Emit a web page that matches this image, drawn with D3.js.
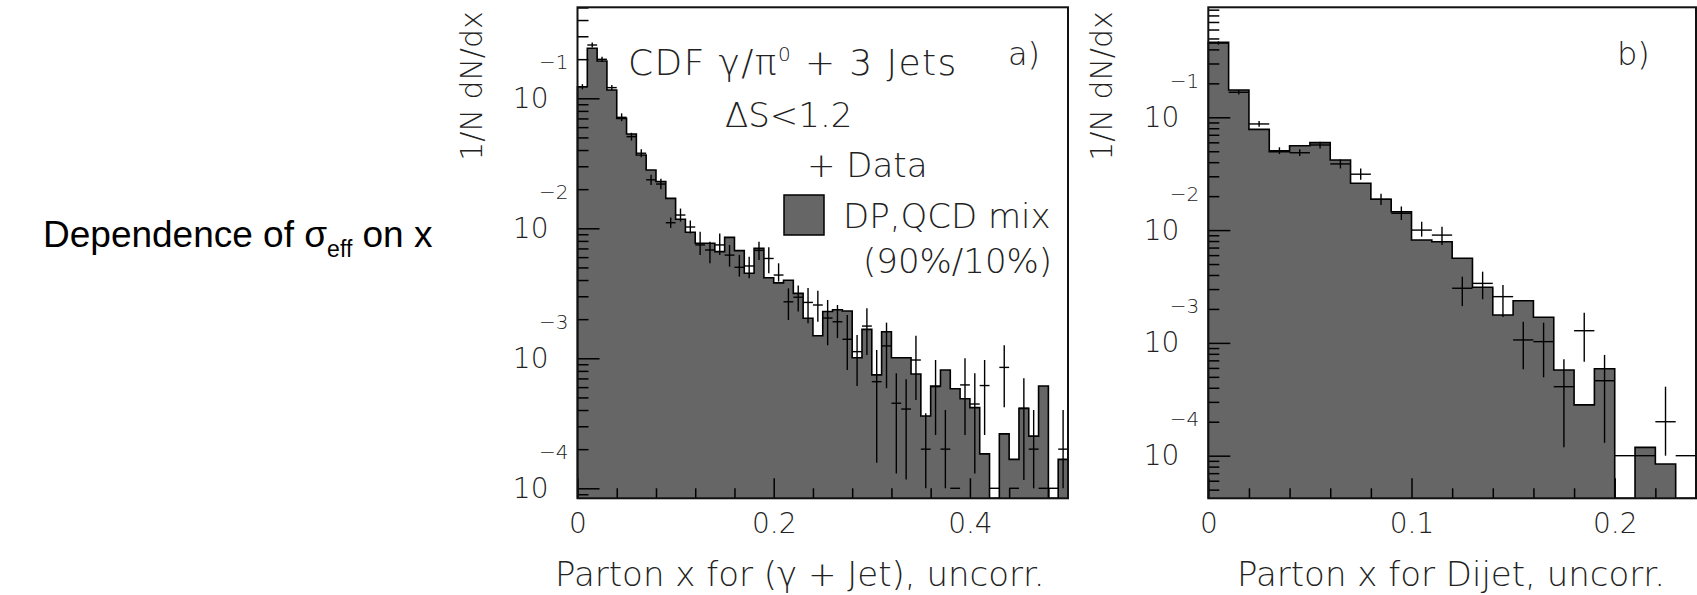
<!DOCTYPE html>
<html>
<head>
<meta charset="utf-8">
<script src="https://cdn.jsdelivr.net/npm/d3@7"></script>
<style>
body { margin: 0; background: #fff; }
svg { display: block; }
.paw { font-family: "DejaVu Sans", sans-serif; font-weight: 200; fill: #222; }
.axis path { display: none; }
.axis line { stroke: #000; stroke-width: 1.5; }
.axis text { font-family: "DejaVu Sans", sans-serif; font-weight: 200; fill: #222; }
</style>
</head>
<body>
<svg width="1697" height="595"></svg>
<script>
// panel a) parton x for (gamma + jet), bins of 0.01 from 0 to 0.5
const aHist = [0.1227, 0.2427, 0.1936, 0.1159, 0.0701, 0.0531, 0.0366, 0.0281, 0.0229, 0.0170,
    0.01175, 0.00933, 0.00767, 0.00767, 0.00661, 0.00851, 0.00673, 0.00451, 0.00701, 0.00417,
    0.00380, 0.00398, 0.00316, 0.00203, 0.00149, 0.00229, 0.00236, 0.00231, 0.00101, 0.00167,
    0.000745, 0.00160, 0.00101, 0.00101, 0.000757, 0.000360, 0.000612, 0.000813, 0.000583, 0.000489,
    0.000417, 0.000184, 0, 0.000262, 0.000167, 0.000412, 0.000252, 0.000612, 0, 0.000167];
const aData = [0.1227, 0.257, 0.1995, 0.1208, 0.0714, 0.0507, 0.0378, 0.0236, 0.0219, 0.01104,
    0.01265, 0.01023, 0.00745, 0.00681, 0.00745, 0.00622, 0.00501, 0.00513, 0.00676, 0.00586,
    0.00437, 0.00272, 0.00295, 0.00269, 0.00257, 0.00204, 0.00191, 0.00140, 0.001125, 0.00177,
    0.000661, 0.001245, 0.000451, 0.000407, 0.000970, 0.0002, 0.000605, 0.0002, 0.0001, 0.000624,
    0.000445, 0.000617, 0.0001, 0.000851, 0.0001, 0.000412, 0.0002, 0.0001, 0.0001, 0.0002];
const aLo = [0.1172, 0.2455, 0.1905, 0.1153, 0.0667, 0.0473, 0.0352, 0.0215, 0.0200, 0.01007,
    0.01127, 0.00912, 0.00624, 0.00538, 0.00624, 0.00507, 0.00425, 0.00412, 0.0057, 0.00451,
    0.00389, 0.00197, 0.00229, 0.00186, 0.00191, 0.00126, 0.00143, 0.000813, 0.000612, 0.00106,
    0.000157, 0.000589, 0.00013, 0.000117, 0.000478, 0.0001, 0.000257, 0.0001, 0.0001, 0.000257,
    0.00013, 0.000257, 0.0001, 0.00042, 0.0001, 0.000116, 0.0001, 0.0001, 0.0001, 0.0001];
const aHi = [0.1285, 0.2692, 0.2089, 0.1265, 0.0766, 0.0543, 0.0405, 0.0258, 0.0240, 0.0121,
    0.01419, 0.01148, 0.00942, 0.00789, 0.00912, 0.00745, 0.00624, 0.00605, 0.00789, 0.00714,
    0.00538, 0.00345, 0.00363, 0.00347, 0.00331, 0.00281, 0.00257, 0.00215, 0.00151, 0.00243,
    0.00116, 0.00188, 0.000767, 0.000689, 0.00149, 0.000378, 0.00097, 0.0004, 0.0001, 0.001,
    0.000767, 0.00097, 0.0001, 0.00126, 0.0001, 0.000702, 0.0004, 0.0001, 0.0001, 0.0004];
const aXTicks = [0, 0.2, 0.4];

// panel b) parton x for dijet, bins of 0.01 from 0 to 0.24
const bHist = [0.462, 0.1746, 0.0782, 0.0495, 0.056, 0.0596, 0.0418, 0.026, 0.01875, 0.01456,
    0.00816, 0.00789, 0.00562, 0.00311, 0.001766, 0.002366, 0.001687, 0.000575, 0.000282, 0.00059,
    0, 0.0001186, 0.0000843, 0];
const bData = [0.455, 0.1667, 0.0873, 0.0506, 0.0485, 0.0568, 0.0386, 0.0313, 0.01875, 0.0141,
    0.01, 0.00903, 0.00305, 0.00337, 0.00257, 0.001062, 0.001026, 0.000409, 0.001282, 0.000462,
    0.0001, 0.0001, 0.0002, 0.0001];
const bLo = [0.44, 0.1592, 0.0824, 0.0472, 0.0453, 0.053, 0.0352, 0.0279, 0.0167, 0.01227,
    0.00875, 0.00738, 0.00212, 0.00244, 0.0017, 0.000583, 0.000495, 0.000119, 0.000682, 0.00013,
    0.0001, 0.0001, 0.0001, 0.0001];
const bHi = [0.471, 0.1746, 0.0925, 0.0542, 0.052, 0.0608, 0.0423, 0.0351, 0.021, 0.0162,
    0.01186, 0.01072, 0.00386, 0.00428, 0.00326, 0.00154, 0.00151, 0.000716, 0.00185, 0.000782,
    0.0001, 0.0001, 0.000409, 0.0001];
const bXTicks = [0, 0.1, 0.2];

const yDecades = [1e-4, 1e-3, 1e-2, 1e-1];
const yExponents = ['\u22124', '\u22123', '\u22122', '\u22121'];
const binWidth = 0.01;

const svg = d3.select('svg');
const frameTop = 7.3, frameBottom = 498.3;

const drawPanel = p => {
    const g = svg.append('g');
    const x = d3.scaleLinear().domain(p.xDomain).range(p.xRange);
    const y = d3.scaleLog().domain(p.yDomain).range([frameBottom, frameTop]);
    const yv = v => v > 0 ? y(v) : frameBottom;

    // histogram outline points (steps), also used for the fill
    const pts = [[x(0), frameBottom]];
    p.hist.forEach((d, i) => {
        pts.push([x(i * binWidth), yv(d)], [x((i + 1) * binWidth), yv(d)]);
    });
    pts.push([x(p.hist.length * binWidth), frameBottom]);
    g.append('path')
        .attr('d', d3.line()(pts) + 'Z')
        .attr('fill', '#666')
        .attr('stroke', 'none');
    g.append('path')
        .attr('d', d3.line()(pts))
        .attr('fill', 'none')
        .attr('stroke', '#000')
        .attr('stroke-width', 1.6);

    // data crosses
    const points = p.data.map((v, i) => ({i, v, lo: p.lo[i], hi: p.hi[i]}));
    const pt = g.selectAll('g.pt').data(points)
        .enter().append('g').attr('class', 'pt');
    pt.append('line')
        .attr('x1', d => x(d.i * binWidth))
        .attr('x2', d => x((d.i + 1) * binWidth))
        .attr('y1', d => y(d.v)).attr('y2', d => y(d.v));
    pt.filter(d => d.hi > d.lo).append('line')
        .attr('x1', d => x((d.i + 0.5) * binWidth))
        .attr('x2', d => x((d.i + 0.5) * binWidth))
        .attr('y1', d => y(d.lo))
        .attr('y2', d => y(d.hi));
    pt.selectAll('line').attr('stroke', '#000').attr('stroke-width', 1.4);

    // y axis: log, decades with split exponent labels
    const minor = [];
    yDecades.concat([1]).forEach(dec => {
        for (let k = 2; k <= 9; k++) {
            const v = k * dec / 10;
            if (v > p.yDomain[0] && v < p.yDomain[1]) minor.push(v);
        }
    });
    g.append('g').attr('class', 'axis')
        .attr('transform', `translate(${p.xRange[0]},0)`)
        .call(d3.axisLeft(y).tickValues(minor).tickSize(-11).tickFormat(''));
    const yAx = g.append('g').attr('class', 'axis')
        .attr('transform', `translate(${p.xRange[0]},0)`)
        .call(d3.axisLeft(y).tickValues(yDecades).tickSize(-22).tickPadding(29).tickFormat(() => '10'));
    yAx.selectAll('.tick text').attr('font-size', 28);
    yAx.selectAll('.tick').append('text')
        .text((d, i) => yExponents[i])
        .attr('x', -9).attr('y', -30).attr('dy', 0)
        .attr('text-anchor', 'end')
        .attr('font-size', 20)
        .attr('fill', '#222');

    // x axis
    g.append('g').attr('class', 'axis')
        .attr('transform', `translate(0,${frameBottom})`)
        .call(d3.axisBottom(x).tickValues(p.xMinor).tickSize(-10).tickFormat(''));
    g.append('g').attr('class', 'axis')
        .attr('transform', `translate(0,${frameBottom})`)
        .call(d3.axisBottom(x).tickValues(p.xTicks).tickSize(-20).tickPadding(15)
            .tickFormat(d => d === 0 ? '0' : d.toFixed(1)))
        .selectAll('text').attr('font-size', 28);

    // frame
    g.append('rect')
        .attr('x', p.xRange[0]).attr('y', frameTop)
        .attr('width', p.xRange[1] - p.xRange[0]).attr('height', frameBottom - frameTop)
        .attr('fill', 'none').attr('stroke', '#111').attr('stroke-width', 2);

    // titles
    g.append('text').attr('class', 'paw')
        .attr('transform', `translate(${p.yTitleX},86) rotate(-90)`)
        .attr('text-anchor', 'middle')
        .attr('font-size', 30)
        .text('1/N dN/dx');
    g.append('text').attr('class', 'paw')
        .attr('x', p.xTitleX).attr('y', 586)
        .attr('font-size', 34)
        .text(p.xTitle);
    g.append('text').attr('class', 'paw')
        .attr('x', p.tagX).attr('y', 65)
        .attr('font-size', 32)
        .text(p.tag);
    return g;
};

const ga = drawPanel({
    hist: aHist, data: aData, lo: aLo, hi: aHi,
    xDomain: [0, 0.5], xRange: [577.5, 1068],
    yDomain: [8.375e-5, 0.5012],
    xTicks: aXTicks, xMinor: [0.04, 0.08, 0.12, 0.16, 0.24, 0.28, 0.32, 0.36, 0.44, 0.48],
    yTitleX: 482, xTitleX: 555, xTitle: 'Parton x for (\u03b3 + Jet), uncorr.',
    tagX: 1008, tag: 'a)'
});
drawPanel({
    hist: bHist, data: bData, lo: bLo, hi: bHi,
    xDomain: [0, 0.24], xRange: [1208.3, 1696],
    yDomain: [4.19e-5, 0.9445],
    xTicks: bXTicks, xMinor: [0.02, 0.04, 0.06, 0.08, 0.12, 0.14, 0.16, 0.18, 0.22],
    yTitleX: 1112, xTitleX: 1237, xTitle: 'Parton x for Dijet, uncorr.',
    tagX: 1617, tag: 'b)'
});

// panel a legend and labels
const t1 = ga.append('text').attr('class', 'paw').attr('x', 628).attr('y', 75)
    .attr('font-size', 36).attr('letter-spacing', 1.4);
t1.append('tspan').text('CDF \u03b3/\u03c0');
t1.append('tspan').attr('dy', -14).attr('font-size', 20).text('0');
t1.append('tspan').attr('dy', 14).text(' + 3 Jets');
ga.append('text').attr('class', 'paw').attr('x', 725).attr('y', 127).attr('font-size', 34).text('\u0394S<1.2');
ga.append('text').attr('class', 'paw').attr('x', 807).attr('y', 177).attr('font-size', 34).text('+ Data');
ga.append('rect').attr('x', 784).attr('y', 195).attr('width', 40).attr('height', 40)
    .attr('fill', '#666').attr('stroke', '#000').attr('stroke-width', 1.5);
ga.append('text').attr('class', 'paw').attr('x', 843).attr('y', 228).attr('font-size', 34).text('DP,QCD mix');
ga.append('text').attr('class', 'paw').attr('x', 863).attr('y', 273).attr('font-size', 34).text('(90%/10%)');

// slide caption
const cap = svg.append('text')
    .attr('x', 43).attr('y', 247)
    .attr('font-family', '"Liberation Sans", Arial, sans-serif')
    .attr('font-size', 37).attr('fill', '#000');
cap.append('tspan').text('Dependence of \u03c3');
cap.append('tspan').attr('dy', 10).attr('font-size', 23).text('eff');
cap.append('tspan').attr('dy', -10).text(' on x');
</script>
</body>
</html>
